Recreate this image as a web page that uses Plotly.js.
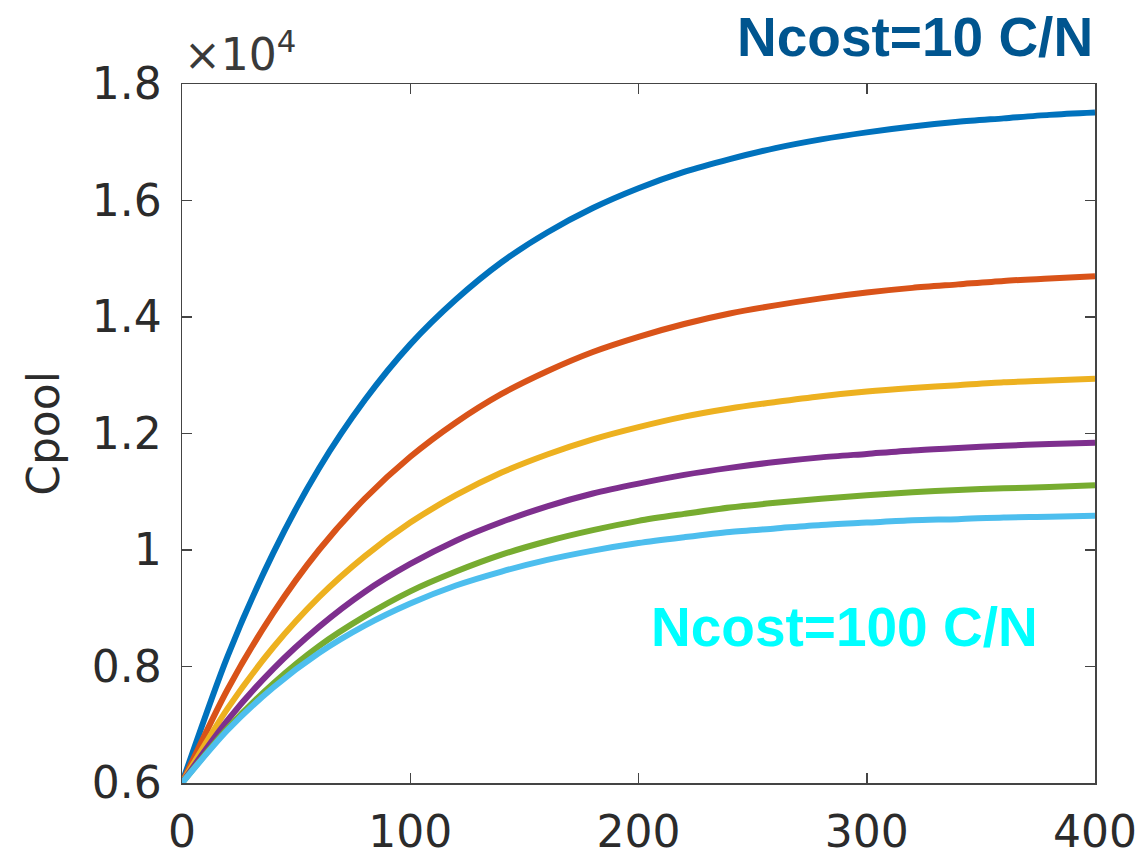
<!DOCTYPE html>
<html>
<head>
<meta charset="utf-8">
<script src="https://cdn.plot.ly/plotly-3.0.1.min.js"></script>
<style>
  html, body { margin: 0; padding: 0; background: #ffffff; }
  #chart { width: 1146px; height: 856px; }
</style>
</head>
<body>
<div id="chart"></div>
<script>
// Time axis (x) values
const tValues = [0, 20, 40, 60, 80, 100, 120, 140, 160, 180, 200, 220, 240, 260, 280, 300, 320, 340, 360, 380, 400];

// Cpool values (in units of 10^4)
const cpoolNcost10 = [0.600, 0.818, 0.995, 1.140, 1.257, 1.353, 1.430, 1.494, 1.545, 1.587, 1.621, 1.649, 1.671, 1.690, 1.705, 1.717, 1.727, 1.735, 1.741, 1.747, 1.751];
const cpoolSeries2 = [0.600, 0.761, 0.892, 1.000, 1.088, 1.160, 1.219, 1.268, 1.307, 1.340, 1.366, 1.388, 1.406, 1.420, 1.432, 1.442, 1.450, 1.456, 1.462, 1.466, 1.470];
const cpoolSeries3 = [0.600, 0.728, 0.833, 0.919, 0.989, 1.047, 1.094, 1.133, 1.164, 1.190, 1.211, 1.229, 1.243, 1.254, 1.264, 1.272, 1.278, 1.283, 1.288, 1.291, 1.294];
const cpoolSeries4 = [0.600, 0.708, 0.796, 0.868, 0.928, 0.976, 1.016, 1.048, 1.075, 1.097, 1.114, 1.129, 1.141, 1.151, 1.159, 1.165, 1.171, 1.175, 1.179, 1.182, 1.184];
const cpoolSeries5 = [0.600, 0.694, 0.771, 0.835, 0.886, 0.929, 0.963, 0.992, 1.015, 1.034, 1.050, 1.062, 1.073, 1.081, 1.088, 1.094, 1.099, 1.103, 1.106, 1.108, 1.111];
const cpoolNcost100 = [0.600, 0.691, 0.764, 0.823, 0.870, 0.908, 0.939, 0.963, 0.983, 0.999, 1.012, 1.022, 1.031, 1.037, 1.043, 1.047, 1.051, 1.053, 1.056, 1.057, 1.059];

const seriesList = [cpoolNcost10, cpoolSeries2, cpoolSeries3, cpoolSeries4, cpoolSeries5, cpoolNcost100];
const seriesColors = ['#0072BD', '#D95319', '#EDB120', '#7E2F8E', '#77AC30', '#4DBEEE'];

// Axis ticks
const xTicks = [0, 100, 200, 300, 400];
const yTicks = [0.6, 0.8, 1.0, 1.2, 1.4, 1.6, 1.8];
const yTickText = ['0.6', '0.8', '1', '1.2', '1.4', '1.6', '1.8'];

// Labels
const yTitle = 'Cpool';
const topLabel = 'Ncost=10 C/N';
const bottomLabel = 'Ncost=100 C/N';
const exponentLabel = '×10<sup>4</sup>';

const traces = seriesList.map((ys, i) => ({
  x: tValues,
  y: ys,
  type: 'scatter',
  mode: 'lines',
  line: { color: seriesColors[i], width: 6, shape: 'spline', smoothing: 0.8 },
  hoverinfo: 'x+y',
  showlegend: false
}));

const axisColor = '#444444';
const tickFont = { family: 'DejaVu Sans, sans-serif', size: 44, color: '#2b2b2b' };

const layout = {
  width: 1146,
  height: 856,
  paper_bgcolor: '#ffffff',
  plot_bgcolor: '#ffffff',
  margin: { l: 182, r: 51, t: 84, b: 73, pad: 0 },
  showlegend: false,
  xaxis: {
    range: [0, 400],
    tickvals: xTicks,
    ticks: 'inside',
    ticklen: 10,
    tickwidth: 1.5,
    tickcolor: axisColor,
    showline: true,
    linecolor: axisColor,
    linewidth: 1.5,
    mirror: 'ticks',
    showgrid: false,
    zeroline: false,
    tickfont: tickFont,
    ticklabelstandoff: 10
  },
  yaxis: {
    range: [0.6, 1.8],
    tickvals: yTicks,
    ticktext: yTickText,
    ticks: 'inside',
    ticklen: 10,
    tickwidth: 1.5,
    tickcolor: axisColor,
    showline: true,
    linecolor: axisColor,
    linewidth: 1.5,
    mirror: 'ticks',
    showgrid: false,
    zeroline: false,
    tickfont: tickFont,
    ticklabelstandoff: 10,
    title: { text: yTitle, font: { family: 'DejaVu Sans, sans-serif', size: 44, color: '#2b2b2b' }, standoff: 18 }
  },
  annotations: [
    {
      text: exponentLabel,
      xref: 'paper', yref: 'paper',
      x: 0, y: 1,
      xanchor: 'left', yanchor: 'bottom',
      xshift: 0, yshift: 2,
      showarrow: false,
      font: { family: 'DejaVu Sans, sans-serif', size: 44, color: '#3a3a3a' }
    },
    {
      text: '<b>' + topLabel + '</b>',
      xref: 'paper', yref: 'paper',
      x: 1, y: 1.067,
      xanchor: 'right', yanchor: 'middle',
      showarrow: false,
      font: { family: 'Liberation Sans, Arial, sans-serif', size: 55, color: '#00558F' }
    },
    {
      text: '<b>' + bottomLabel + '</b>',
      xref: 'paper', yref: 'paper',
      x: 0.94, y: 0.223,
      xanchor: 'right', yanchor: 'middle',
      showarrow: false,
      font: { family: 'Liberation Sans, Arial, sans-serif', size: 55, color: '#00FFFF' }
    }
  ]
};

Plotly.newPlot('chart', traces, layout, { displayModeBar: false, staticPlot: true });
</script>
</body>
</html>
